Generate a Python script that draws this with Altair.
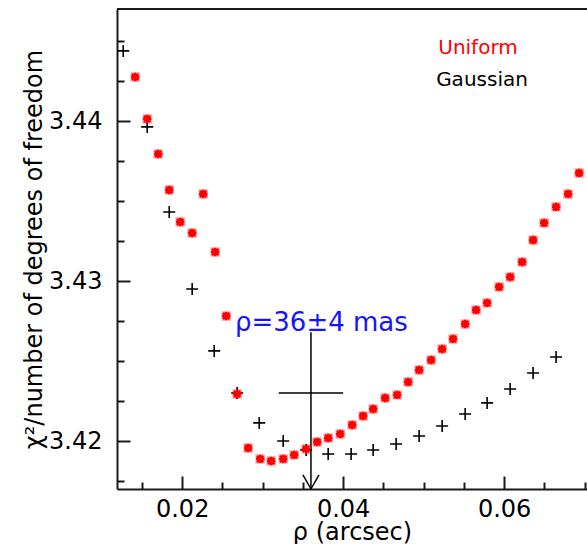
import altair as alt
import pandas as pd

# Uniform-disk fit: reduced chi-square against separation (arcsec)
uniform_rho = [0.01416, 0.01565, 0.01702, 0.01839, 0.01975, 0.02124, 0.02261, 0.02410,
               0.02547, 0.02683, 0.02820, 0.02969, 0.03106, 0.03255, 0.03391, 0.03540,
               0.03677, 0.03814, 0.03963, 0.04112, 0.04248, 0.04373, 0.04522, 0.04671,
               0.04807, 0.04944, 0.05093, 0.05230, 0.05366, 0.05516, 0.05652, 0.05789,
               0.05938, 0.06075, 0.06224, 0.06360, 0.06497, 0.06646, 0.06795, 0.06932]
uniform_chi2 = [3.44275, 3.44013, 3.43794, 3.43569, 3.43369, 3.43300, 3.43544, 3.43181,
                3.42781, 3.42294, 3.41956, 3.41888, 3.41875, 3.41888, 3.41913, 3.41950,
                3.41994, 3.42019, 3.42044, 3.42100, 3.42156, 3.42200, 3.42269, 3.42288,
                3.42369, 3.42444, 3.42506, 3.42575, 3.42638, 3.42731, 3.42819, 3.42863,
                3.42963, 3.43025, 3.43119, 3.43256, 3.43363, 3.43463, 3.43544, 3.43675]

# Gaussian fit
gauss_rho = [0.01267, 0.01565, 0.01839, 0.02124, 0.02398, 0.02683, 0.02957, 0.03255,
             0.03540, 0.03814, 0.04099, 0.04373, 0.04658, 0.04944, 0.05230, 0.05516,
             0.05789, 0.06075, 0.06360, 0.06646]
gauss_chi2 = [3.44438, 3.43963, 3.43431, 3.42950, 3.42563, 3.42300, 3.42113, 3.42000,
              3.41944, 3.41919, 3.41919, 3.41944, 3.41981, 3.42031, 3.42094, 3.42169,
              3.42238, 3.42325, 3.42425, 3.42525]

# Best separation and its uncertainty
best_rho = 0.036
best_err = 0.004
best_chi2 = 3.423
arrow_top = 3.4268
label_text = "ρ=36±4 mas"
label_rho = 0.0373
label_chi2 = 3.4274

x_major = [0.02, 0.04, 0.06]
x_minor = [0.015, 0.025, 0.03, 0.035, 0.045, 0.05, 0.055, 0.065, 0.07]
y_major = [3.42, 3.43, 3.44]
y_minor = [3.4175, 3.4225, 3.425, 3.4275, 3.4325, 3.435, 3.4375, 3.4425, 3.445]

X_DOMAIN = [0.0119, 0.0703]
Y_DOMAIN = [3.417, 3.447]
W, H = 470, 480
FONT = "DejaVu Sans"
INK = "#1a1a1a"
MAJOR_LEN, MINOR_LEN = 13, 7

xs = alt.Scale(domain=X_DOMAIN, nice=False, zero=False)
ys = alt.Scale(domain=Y_DOMAIN, nice=False, zero=False)

# labelled axes (domain line, numbers, titles); no ticks of their own
xaxis = alt.Axis(orient="bottom", values=x_major, format=".2f", ticks=False, grid=False,
                 labelFontSize=24, labelPadding=8, labelColor="black", labelFont=FONT,
                 title="ρ (arcsec)", titleFontSize=24, titleFontWeight="normal",
                 titleFont=FONT, titleColor="black", titlePadding=-1,
                 domainColor=INK, domainWidth=2)
yaxis = alt.Axis(orient="left", values=y_major, format=".2f", ticks=False, grid=False,
                 labelFontSize=24, labelPadding=15, labelColor="black", labelFont=FONT,
                 title="χ²/number of degrees of freedom", titleFontSize=24,
                 titleFontWeight="normal", titleFont=FONT, titleColor="black",
                 titlePadding=2, domainColor=INK, domainWidth=2)


def tick_axis(orient, vals, length):
    # an unlabelled axis pulled inside the plot by its own tick length,
    # so that its outward ticks end exactly on the frame: inward ticks
    return alt.Axis(orient=orient, values=vals, offset=-length, ticks=True,
                    tickSize=length, tickWidth=2, tickColor=INK, tickOpacity=1,
                    labels=False, domain=False, grid=False, title=None)


X = lambda f: alt.X(f, type="quantitative", scale=xs, axis=xaxis)
Y = lambda f: alt.Y(f, type="quantitative", scale=ys, axis=yaxis)

uni = pd.DataFrame({"rho": uniform_rho, "chi2": uniform_chi2})
gau = pd.DataFrame({"rho": gauss_rho, "chi2": gauss_chi2})

PLUS = "M-1,0L1,0M0,-1L0,1"
STAR = "M-1,0L1,0M0,-1L0,1M-0.75,-0.75L0.75,0.75M-0.75,0.75L0.75,-0.75"

gauss_pts = alt.Chart(gau).mark_point(shape=PLUS, filled=False, size=144,
                                      stroke="black", strokeWidth=1.6, opacity=1).encode(
    x=X("rho"), y=Y("chi2"))

uni_halo = alt.Chart(uni).mark_point(shape="square", filled=True, size=90,
                                     color="#ff0000", opacity=0.35).encode(
    x=X("rho"), y=Y("chi2"))
uni_pts = alt.Chart(uni).mark_point(shape=STAR, filled=False, size=70,
                                    stroke="#ff0000", strokeWidth=2.4, opacity=1).encode(
    x=X("rho"), y=Y("chi2"))

top_edge = alt.Chart(pd.DataFrame({"v": [0]})).mark_rule(color=INK, strokeWidth=2).encode(
    x=alt.value(0), x2=alt.value(W), y=alt.value(0))

# error bar and arrow marking the best separation
err = pd.DataFrame({"lo": [best_rho - best_err], "hi": [best_rho + best_err], "c": [best_chi2]})
err_bar = alt.Chart(err).mark_rule(color="black", strokeWidth=1.5).encode(
    x=X("lo"), x2="hi", y=Y("c"))

arr = pd.DataFrame({"r": [best_rho], "top": [arrow_top], "bot": [Y_DOMAIN[0]]})
arrow_shaft = alt.Chart(arr).mark_rule(color="black", strokeWidth=1.5).encode(
    x=X("r"), y=Y("top"), y2="bot")

head = pd.DataFrame({"r0": [best_rho - 0.001, best_rho + 0.001], "c0": [3.41788, 3.41788],
                     "r1": [best_rho, best_rho], "c1": [Y_DOMAIN[0], Y_DOMAIN[0]]})
arrow_head = alt.Chart(head).mark_rule(color="black", strokeWidth=1.5).encode(
    x=X("r0"), y=Y("c0"), x2="r1", y2="c1")

lbl = pd.DataFrame({"r": [label_rho], "c": [label_chi2], "t": [label_text]})
best_label = alt.Chart(lbl).mark_text(font=FONT, fontSize=26, color="#1414ff",
                                      align="center", baseline="middle").encode(
    x=X("r"), y=Y("c"), text="t:N")

legend_uniform = alt.Chart(pd.DataFrame({"t": ["Uniform"]})).mark_text(
    font=FONT, fontSize=20, color="#ff0000", align="center", baseline="middle").encode(
    x=alt.value(361), y=alt.value(39), text="t:N")
legend_gauss = alt.Chart(pd.DataFrame({"t": ["Gaussian"]})).mark_text(
    font=FONT, fontSize=20, color="black", align="center", baseline="middle").encode(
    x=alt.value(365), y=alt.value(71), text="t:N")

main = alt.layer(
    top_edge,
    err_bar, arrow_shaft, arrow_head,
    gauss_pts, uni_halo, uni_pts,
    best_label, legend_uniform, legend_gauss,
)

# invisible anchors that carry the major and minor tick axes
anchor = pd.DataFrame({"ax": [x_major[0]], "ay": [y_major[0]]})
major_ticks = alt.Chart(anchor).mark_point(opacity=0).encode(
    x=alt.X("ax:Q", scale=xs, axis=tick_axis("bottom", x_major, MAJOR_LEN)),
    y=alt.Y("ay:Q", scale=ys, axis=tick_axis("left", y_major, MAJOR_LEN)))
minor_ticks = alt.Chart(anchor).mark_point(opacity=0).encode(
    x=alt.X("ax:Q", scale=xs, axis=tick_axis("bottom", x_minor, MINOR_LEN)),
    y=alt.Y("ay:Q", scale=ys, axis=tick_axis("left", y_minor, MINOR_LEN)))

chart = alt.layer(main, major_ticks, minor_ticks).resolve_axis(
    x="independent", y="independent"
).properties(
    width=W, height=H,
    autosize=alt.AutoSizeParams(type="none"),
    padding={"left": 117, "top": 9, "right": 0, "bottom": 55},
    background="white",
).configure_view(stroke=None).configure(font=FONT)

chart.save("out.html", embed_options={"renderer": "svg", "actions": False})
